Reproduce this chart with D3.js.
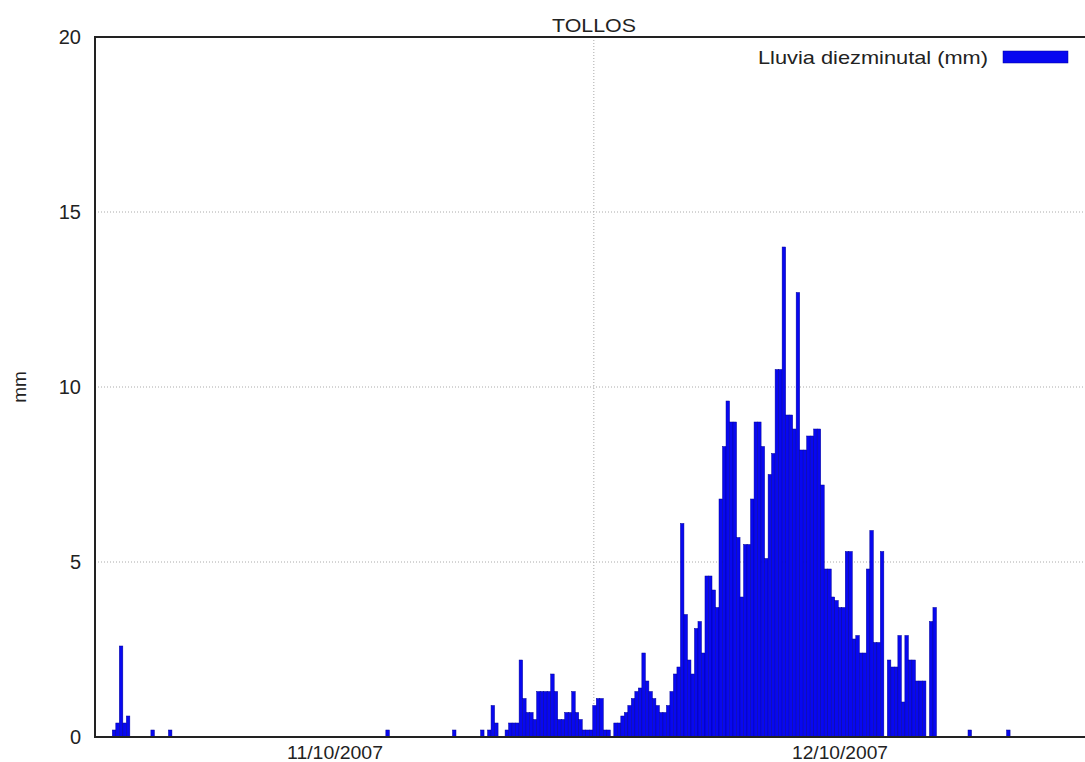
<!DOCTYPE html>
<html>
<head>
<meta charset="utf-8">
<script src="https://cdn.jsdelivr.net/npm/d3@7"></script>
<style>
  body { margin: 0; background: #fff; }
  text { font-family: "Liberation Sans", Arial, sans-serif; fill: #222; }
</style>
</head>
<body>
<div id="chart"></div>
<script>
// lluvia diezminutal, un registro cada 10 min desde "inicio"
var inicio = "2007-10-11T01:30";
var lluvia = [
  0.2,0.4,2.6,0.4,0.6,0,0,0,0,0,0,0.2,
  0,0,0,0,0.2,0,0,0,0,0,0,0,
  0,0,0,0,0,0,0,0,0,0,0,0,
  0,0,0,0,0,0,0,0,0,0,0,0,
  0,0,0,0,0,0,0,0,0,0,0,0,
  0,0,0,0,0,0,0,0,0,0,0,0,
  0,0,0,0,0,0,0.2,0,0,0,0,0,
  0,0,0,0,0,0,0,0,0,0,0,0,
  0,0.2,0,0,0,0,0,0,0,0.2,0,0.2,
  0.9,0.4,0,0,0.2,0.4,0.4,0.4,2.2,1.1,0.7,0.7,
  0.5,1.3,1.3,1.3,1.3,1.8,1.3,0.5,0.5,0.7,0.7,1.3,
  0.7,0.5,0.2,0.2,0.2,0.9,1.1,1.1,0.2,0.2,0,0.4,
  0.4,0.6,0.7,0.9,1.1,1.3,1.4,2.4,1.6,1.3,1.1,0.9,
  0.7,0.7,0.9,1.3,1.8,2.0,6.1,3.5,2.2,1.8,3.1,3.3,
  2.4,4.6,4.6,4.2,3.7,6.8,8.3,9.6,9.0,9.0,5.7,4.0,
  5.5,5.5,6.8,9.0,9.0,8.3,5.1,7.5,8.1,10.5,10.5,14.0,
  9.2,9.2,8.8,12.7,8.2,8.2,8.6,8.6,8.8,8.8,7.2,4.8,
  4.8,4.0,3.9,3.7,3.7,5.3,5.3,2.8,2.9,2.4,2.4,4.8,
  5.9,2.7,2.7,5.3,0,2.2,2.0,2.0,2.9,1.0,2.9,2.2,
  2.2,1.6,1.6,1.6,0,3.3,3.7,0,0,0,0,0,
  0,0,0,0,0.2,0,0,0,0,0,0,0,
  0,0,0,0.2
];
var etiquetas = ["2007-10-11T12:00", "2007-10-12T12:00"];
var rejillaX = ["2007-10-12T00:18"];
var ticksY = [0, 5, 10, 15, 20];
var titulo = "TOLLOS";
var leyenda = "Lluvia diezminutal (mm)";

var W = 1085, H = 762;
var mLeft = 95, mRight = 1083, mTop = 37, mBottom = 737;
var paso = 10 * 60 * 1000;
var parse = d3.isoParse;
var t0 = parse(inicio).getTime();

var datos = lluvia.map(function(v, i) {
  return { t: new Date(t0 + i * paso), v: v };
});

var svg = d3.select("#chart").append("svg")
  .attr("width", W).attr("height", H);

var x = d3.scaleTime()
  .domain(etiquetas.map(parse))
  .range([335, 840]);
var y = d3.scaleLinear().domain([0, 20]).range([mBottom, mTop]);

// rejilla
svg.selectAll(".gy").data(ticksY.slice(1, -1)).enter().append("line")
  .attr("x1", mLeft).attr("x2", mRight)
  .attr("y1", function(d) { return y(d); })
  .attr("y2", function(d) { return y(d); })
  .attr("stroke", "#aaa").attr("stroke-width", 1)
  .attr("stroke-dasharray", "1,2");
svg.selectAll(".gx").data(rejillaX).enter().append("line")
  .attr("x1", function(d) { return x(parse(d)); })
  .attr("x2", function(d) { return x(parse(d)); })
  .attr("y1", mTop).attr("y2", mBottom)
  .attr("stroke", "#aaa").attr("stroke-width", 1)
  .attr("stroke-dasharray", "1,2");

// barras
svg.selectAll(".bar").data(datos.filter(function(d) { return d.v > 0; }))
  .enter().append("rect")
  .attr("x", function(d) { return x(new Date(d.t.getTime() - paso / 2)); })
  .attr("width", function(d) {
    return x(new Date(d.t.getTime() + paso / 2)) - x(new Date(d.t.getTime() - paso / 2));
  })
  .attr("y", function(d) { return y(d.v); })
  .attr("height", function(d) { return y(0) - y(d.v); })
  .attr("fill", "#0808f0")
  .attr("stroke", "#00009a")
  .attr("stroke-width", 0.5);

// marco
svg.append("path")
  .attr("d", "M" + W + "," + mTop + "H" + mLeft + "V" + mBottom + "H" + W)
  .attr("fill", "none").attr("stroke", "#222").attr("stroke-width", 2);

// eje Y
svg.selectAll(".ty").data(ticksY).enter().append("text")
  .attr("x", 81).attr("y", function(d) { return y(d); })
  .attr("dy", "0.35em").attr("text-anchor", "end")
  .attr("font-size", 20)
  .text(function(d) { return d; });

// eje X
svg.selectAll(".tx").data(etiquetas).enter().append("text")
  .attr("x", function(d) { return x(parse(d)); })
  .attr("y", 759).attr("text-anchor", "middle")
  .attr("font-size", 19)
  .attr("textLength", 96).attr("lengthAdjust", "spacingAndGlyphs")
  .text(function(d) { return d3.timeFormat("%d/%m/%Y")(parse(d)); });

svg.append("text").attr("x", 594).attr("y", 32)
  .attr("text-anchor", "middle").attr("font-size", 19)
  .attr("textLength", 84).attr("lengthAdjust", "spacingAndGlyphs")
  .text(titulo);

svg.append("text")
  .attr("transform", "translate(26,387) rotate(-90)")
  .attr("text-anchor", "middle").attr("font-size", 19).text("mm");

// leyenda
svg.append("text").attr("x", 988).attr("y", 64)
  .attr("text-anchor", "end").attr("font-size", 19)
  .attr("textLength", 230).attr("lengthAdjust", "spacingAndGlyphs")
  .text(leyenda);
svg.append("rect").attr("x", 1003).attr("y", 51)
  .attr("width", 65).attr("height", 12)
  .attr("fill", "#0808f0").attr("stroke", "#00009a").attr("stroke-width", 0.5);
</script>
</body>
</html>
